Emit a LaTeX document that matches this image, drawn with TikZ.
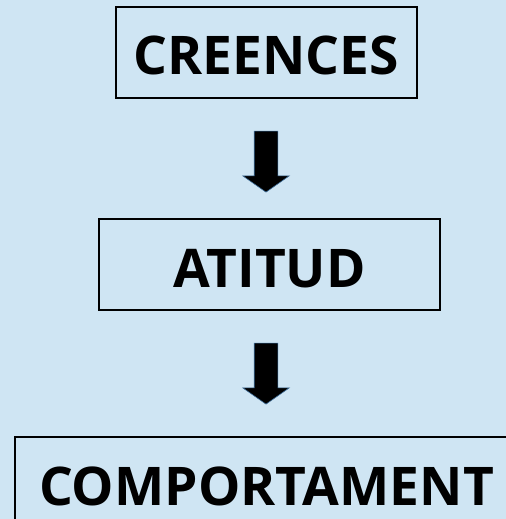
\documentclass[tikz,border=0pt]{standalone}
\usepackage{fontspec}
\setmainfont{Open Sans}
\usepackage{xcolor}
\usetikzlibrary{shapes.arrows}
\definecolor{bgColor}{HTML}{CFE5F3}
\definecolor{boxColor}{HTML}{000000}
\definecolor{arrowColor}{HTML}{000000}
\definecolor{arrowEdgeColor}{HTML}{3E6E9A}
\def\textA{CREENCES}
\def\textB{ATITUD}
\def\textC{COMPORTAMENT}
\tikzset{
  stepbox/.style={draw=boxColor, line width=1.8bp, inner sep=0pt,
    minimum height=91bp, text height=45bp, text depth=0pt,
    font=\fontsize{53.5}{60}\selectfont\bfseries},
  blockarrow/.style={single arrow, fill=arrowColor, draw=arrowEdgeColor,
    line width=.6bp, rotate=-90, inner xsep=0pt, inner ysep=11.5bp,
    minimum width=46bp, minimum height=61bp,
    single arrow head extend=11.5bp, single arrow tip angle=110}
}
\begin{document}
\begin{tikzpicture}[x=1bp,y=-1bp]

% background and margins
\fill[bgColor] (0, 0) rectangle (506, 519);
\useasboundingbox (0, 0) rectangle (506, 519);
\clip (0, 0) rectangle (506, 519);

% boxes
\begin{scope}
\node[stepbox, minimum width=301bp] (creences) at (266.5, 52.5) {\textA};
\node[stepbox, minimum width=341bp] (atitud) at (269.5, 264.5) {\textB};
\node[stepbox, minimum width=503bp] (comport) at (266.5, 482.5) {\textC};
\end{scope}

% arrows
\begin{scope}
\node[blockarrow] (arrA) at (266, 157.5) {};
\node[blockarrow] (arrB) at (266, 369.5) {};
\end{scope}

\end{tikzpicture}
\end{document}
